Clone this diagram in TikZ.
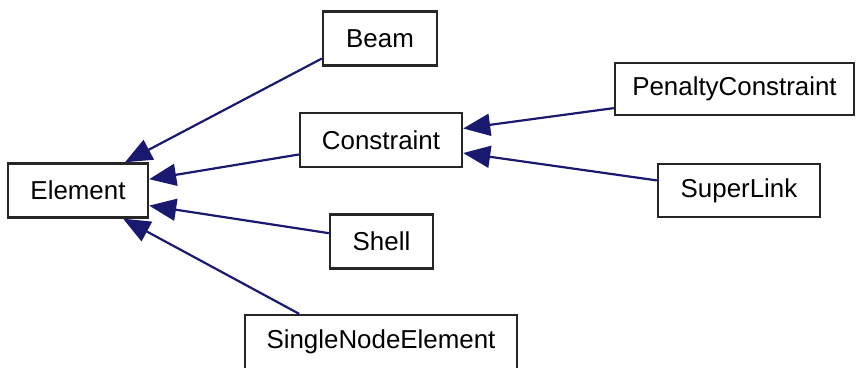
\documentclass[tikz,border=0pt]{standalone}
\usepackage{fontspec}
\setmainfont{Liberation Sans}
\usetikzlibrary{arrows.meta}

\definecolor{edgeblue}{HTML}{191970}

\begin{document}
\begin{tikzpicture}[x=1pt, y=-1pt,
    cls/.style={draw=black!85, line width=2.4pt, fill=white, inner sep=0pt,
                minimum height=54pt, font=\fontsize{25.9}{30}\selectfont},
    inherit/.style={draw=edgeblue, line width=2.2pt,
                    -{Triangle[length=27pt, width=22pt]}, edgeblue}]
  \useasboundingbox (0,0) rectangle (856,367);

  % base class
  \node[cls, minimum width=140pt] (element) at (78,190.5) {Element};

  % first level
  \node[cls, minimum width=114pt] (beam) at (380,38.5) {Beam};
  \node[cls, minimum width=162pt] (constraint) at (381,140) {Constraint};
  \node[cls, minimum width=103pt] (shell) at (381.5,241.5) {Shell};
  \node[cls, minimum width=272pt] (single) at (381,342) {SingleNodeElement};

  % second level
  \node[cls, minimum width=239pt, minimum height=52pt] (penalty) at (734.5,89) {PenaltyConstraint};
  \node[cls, minimum width=162pt, minimum height=53pt] (superlink) at (739,190.5) {SuperLink};

  % inheritance arrows
  \draw[inherit] (beam.199) -- (element.31);
  \draw[inherit] (constraint.190) -- (element.9);
  \draw[inherit] (shell.171) -- (element.348);
  \draw[inherit] (single.161) -- (element.328);
  \draw[inherit] (penalty.189) -- (constraint.8);
  \draw[inherit] (superlink.173) -- (constraint.351);
\end{tikzpicture}
\end{document}
